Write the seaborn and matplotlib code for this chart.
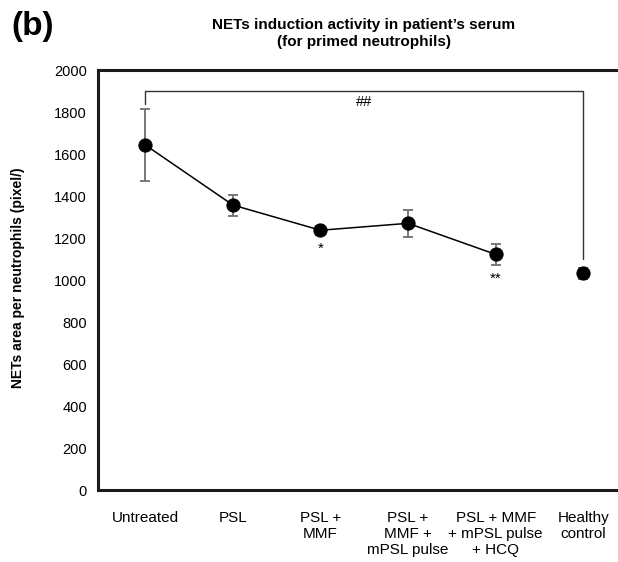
import matplotlib
matplotlib.use('Agg')

import matplotlib.pyplot as plt
import pandas as pd
import seaborn as sns

groups = ['Untreated', 'PSL', 'PSL +\nMMF', 'PSL +\nMMF +\nmPSL pulse',
          'PSL + MMF\n+ mPSL pulse\n+ HCQ', 'Healthy\ncontrol']
means = [1643, 1357, 1237, 1270, 1122, 1032]
errors = [170, 50, 22, 63, 50, 25]
stars = ['', '', '*', '', '**', '']

sns.set_theme(style='white', rc={'text.color': 'black', 'axes.labelcolor': 'black',
                                 'xtick.color': 'black', 'ytick.color': 'black'})
plt.rcParams['font.family'] = ['Liberation Sans', 'DejaVu Sans']

data = pd.DataFrame({'pos': range(len(groups)), 'mean': means, 'err': errors})
patients = data.iloc[:5]
healthy = data.iloc[5:]

fig = plt.figure(figsize=(6.18, 5.62), dpi=100)
ax = fig.add_axes([0.1586, 0.1281, 0.856, 0.7473])

#   error bars first so the dots sit on top
ax.errorbar(data['pos'], data['mean'], yerr=data['err'], fmt='none',
            ecolor='#6e6e6e', elinewidth=1.3, capsize=3.6, capthick=1.3, zorder=2)

sns.lineplot(data=patients, x='pos', y='mean', color='black', linewidth=1.1,
             marker='o', markersize=9.5, markeredgecolor='black', ax=ax, zorder=3)
sns.scatterplot(data=healthy, x='pos', y='mean', color='black', s=90,
                edgecolor='black', ax=ax, zorder=3)

#   significance marks
for i, s in enumerate(stars):
    if s:
        ax.text(i, means[i] - errors[i] - 35, s, ha='center', va='top', fontsize=11)

top = 1900
ax.plot([0, 0, 5, 5], [top - 60, top, top, means[5] + 70], color='#333333', lw=1.0, zorder=1)
ax.text(2.5, top - 20, '##', ha='center', va='top', fontsize=10.5)

ax.set_xlim(-0.54, 5.5)
ax.set_ylim(0, 2000)
ax.set_yticks(range(0, 2001, 200))
ax.set_xticks(range(len(groups)))
ax.set_xticklabels(groups, fontsize=11)
ax.tick_params(axis='x', length=0, pad=15)
ax.tick_params(axis='y', length=0, pad=8, labelsize=10.5)
ax.set_xlabel('')
ax.set_ylabel('NETs area per neutrophils (pixel/)', fontsize=10, fontweight='bold')
ax.yaxis.set_label_coords(-0.138, 0.505)

for side in ax.spines.values():
    side.set_color('#1a1a1a')
    side.set_linewidth(2.2)

fig.text(0.589, 0.940, 'NETs induction activity in patient\u2019s serum\n(for primed neutrophils)',
         ha='center', va='center', fontsize=11, fontweight='bold', linespacing=1.25)
fig.text(0.018, 0.952, '(b)', ha='left', va='center', fontsize=24, fontweight='bold')

fig.savefig('out.png', dpi=100)
